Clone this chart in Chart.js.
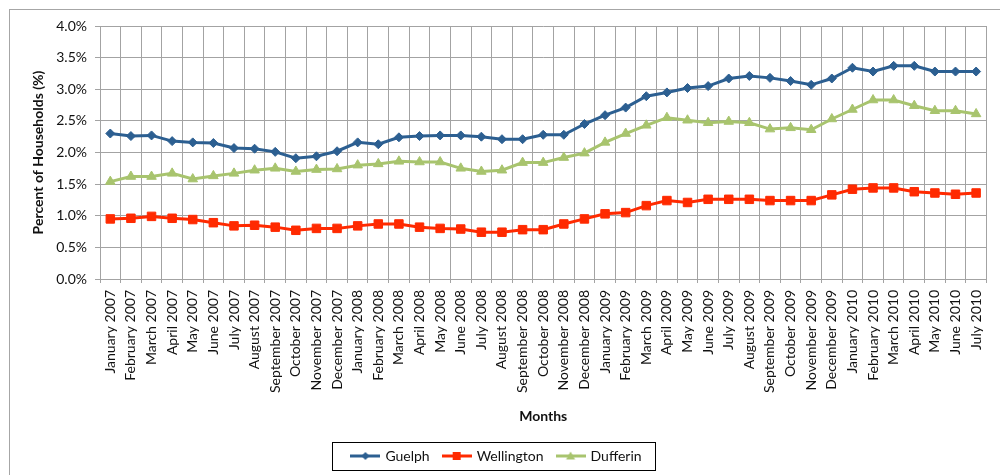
<!DOCTYPE html>
<html>
<head>
<meta charset="utf-8">
<script src="https://cdn.jsdelivr.net/npm/chart.js@4.4.0/dist/chart.umd.min.js"></script>
<style>
  html, body { margin: 0; padding: 0; background: #fff; }
  #caixa { position: relative; width: 1000px; height: 475px; }
</style>
</head>
<body>
<div id="caixa"><canvas id="grafico" width="1000" height="475"></canvas></div>
<script>
  // dados (percentagem de agregados)
  const meses = [
    "January 2007", "February 2007", "March 2007", "April 2007", "May 2007", "June 2007",
    "July 2007", "August 2007", "September 2007", "October 2007", "November 2007", "December 2007",
    "January 2008", "February 2008", "March 2008", "April 2008", "May 2008", "June 2008",
    "July 2008", "August 2008", "September 2008", "October 2008", "November 2008", "December 2008",
    "January 2009", "February 2009", "March 2009", "April 2009", "May 2009", "June 2009",
    "July 2009", "August 2009", "September 2009", "October 2009", "November 2009", "December 2009",
    "January 2010", "February 2010", "March 2010", "April 2010", "May 2010", "June 2010", "July 2010"
  ];

  const guelph = [
    2.30, 2.26, 2.27, 2.18, 2.16, 2.15, 2.07, 2.06, 2.01, 1.91, 1.94, 2.02,
    2.16, 2.13, 2.24, 2.26, 2.27, 2.27, 2.25, 2.21, 2.21, 2.28, 2.28, 2.45,
    2.59, 2.71, 2.89, 2.95, 3.02, 3.05, 3.17, 3.21, 3.18, 3.13, 3.07, 3.17,
    3.34, 3.28, 3.37, 3.37, 3.28, 3.28, 3.28
  ];

  const wellington = [
    0.95, 0.96, 0.99, 0.96, 0.94, 0.89, 0.84, 0.85, 0.82, 0.77, 0.80, 0.80,
    0.84, 0.87, 0.87, 0.82, 0.80, 0.79, 0.74, 0.74, 0.78, 0.78, 0.87, 0.95,
    1.03, 1.05, 1.16, 1.24, 1.21, 1.26, 1.26, 1.26, 1.24, 1.24, 1.24, 1.33,
    1.42, 1.44, 1.44, 1.38, 1.36, 1.34, 1.36
  ];

  const dufferin = [
    1.54, 1.62, 1.62, 1.67, 1.58, 1.63, 1.67, 1.72, 1.75, 1.70, 1.73, 1.74,
    1.80, 1.82, 1.86, 1.85, 1.85, 1.75, 1.70, 1.72, 1.84, 1.84, 1.92, 1.99,
    2.16, 2.30, 2.43, 2.55, 2.51, 2.47, 2.49, 2.47, 2.37, 2.39, 2.36, 2.53,
    2.68, 2.83, 2.83, 2.74, 2.66, 2.66, 2.61
  ];

  const corGuelph = "#2c5f91";
  const corWellington = "#ff2a00";
  const corDufferin = "#a8c46e";
  const corGrelha = "#a3a3a3";
  const fonte = "Lato, 'Open Sans', sans-serif";

  // icone da legenda: linha com o marcador no meio
  function iconeLegenda(cor, estilo) {
    let c = document.createElement("canvas");
    c.width = 30;
    c.height = 14;
    let ctx = c.getContext("2d");
    ctx.strokeStyle = cor;
    ctx.lineWidth = 3;
    ctx.beginPath();
    ctx.moveTo(0, 7);
    ctx.lineTo(30, 7);
    ctx.stroke();
    ctx.fillStyle = cor;
    ctx.beginPath();
    if (estilo === "rectRot") {
      ctx.moveTo(15, 3); ctx.lineTo(19, 7); ctx.lineTo(15, 11); ctx.lineTo(11, 7);
    } else if (estilo === "rect") {
      ctx.rect(11, 3, 8, 8);
    } else {
      ctx.moveTo(15, 2.5); ctx.lineTo(19.5, 10.5); ctx.lineTo(10.5, 10.5);
    }
    ctx.closePath();
    ctx.fill();
    return c;
  }

  const icones = [
    iconeLegenda(corGuelph, "rectRot"),
    iconeLegenda(corWellington, "rect"),
    iconeLegenda(corDufferin, "triangle")
  ];

  // moldura exterior e caixa da legenda
  const molduras = {
    id: "molduras",
    beforeDraw(chart) {
      let ctx = chart.ctx;
      ctx.save();
      ctx.strokeStyle = "#a6a6a6";
      ctx.lineWidth = 1;
      ctx.strokeRect(9.5, 9.5, 1100, 1100);
      ctx.restore();
    },
    afterDraw(chart) {
      let caixas = chart.legend.legendHitBoxes;
      if (!caixas || caixas.length === 0) return;
      let esq = Math.min(...caixas.map(c => c.left));
      let dir = Math.max(...caixas.map(c => c.left + c.width));
      let topo = Math.min(...caixas.map(c => c.top));
      let alt = Math.max(...caixas.map(c => c.height));
      let ctx = chart.ctx;
      ctx.save();
      ctx.strokeStyle = "#000";
      ctx.lineWidth = 1;
      ctx.strokeRect(Math.round(esq - 20) + 0.5, Math.round(topo + alt / 2 - 14) + 0.5,
        Math.round(dir - esq + 34), 28);
      ctx.restore();
    }
  };

  let ctx = document.getElementById("grafico").getContext("2d");
  let grafico = new Chart(ctx, {
    type: "line",
    data: {
      labels: meses,
      datasets: [
        {
          label: "Guelph",
          data: guelph,
          borderColor: corGuelph,
          backgroundColor: corGuelph,
          borderWidth: 3,
          pointStyle: "rectRot",
          pointRadius: 4.5,
          pointBorderWidth: 1,
          tension: 0
        },
        {
          label: "Wellington",
          data: wellington,
          borderColor: corWellington,
          backgroundColor: corWellington,
          borderWidth: 3,
          pointStyle: "rect",
          pointRadius: 6,
          pointBorderWidth: 1,
          tension: 0
        },
        {
          label: "Dufferin",
          data: dufferin,
          borderColor: corDufferin,
          backgroundColor: corDufferin,
          borderWidth: 3,
          pointStyle: "triangle",
          pointRadius: 5.5,
          pointBorderWidth: 1,
          tension: 0
        }
      ]
    },
    options: {
      responsive: false,
      animation: false,
      layout: { padding: { top: 26, right: 6, left: 0, bottom: 2 } },
      plugins: {
        tooltip: { enabled: false },
        legend: {
          position: "bottom",
          labels: {
            usePointStyle: true,
            pointStyleWidth: 26,
            padding: 14,
            color: "#111",
            font: { family: fonte, size: 14 },
            generateLabels(chart) {
              let itens = Chart.defaults.plugins.legend.labels.generateLabels(chart);
              itens.forEach((item, i) => { item.pointStyle = icones[i]; });
              return itens;
            }
          }
        }
      },
      scales: {
        x: {
          offset: true,
          grid: { offset: true, color: corGrelha, tickLength: 4, tickColor: corGrelha },
          border: { color: corGrelha },
          ticks: {
            minRotation: 90,
            maxRotation: 90,
            autoSkip: false,
            padding: 7,
            color: "#111",
            font: { family: fonte, size: 14 }
          },
          title: {
            display: true,
            text: "Months",
            color: "#111",
            font: { family: fonte, size: 14, weight: "bold" },
            padding: { top: 0, bottom: 10 }
          },
          afterFit(escala) { escala.height = 156; }
        },
        y: {
          min: 0,
          max: 4,
          grid: { color: corGrelha, tickLength: 5, tickColor: corGrelha },
          border: { color: corGrelha },
          ticks: {
            stepSize: 0.5,
            padding: 8,
            color: "#111",
            font: { family: fonte, size: 14 },
            callback: v => v.toFixed(1) + "%"
          },
          title: {
            display: true,
            text: "Percent of Households (%)",
            color: "#111",
            font: { family: fonte, size: 14, weight: "bold" },
            padding: { top: 30, bottom: 0 }
          },
          afterFit(escala) { escala.width = 100; }
        }
      }
    },
    plugins: [molduras]
  });
</script>
</body>
</html>
